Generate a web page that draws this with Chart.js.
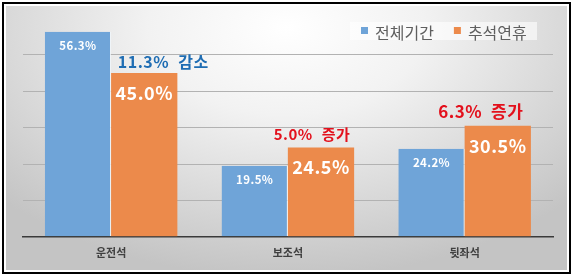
<!DOCTYPE html>
<html>
<head>
<meta charset="utf-8">
<script src="https://cdn.jsdelivr.net/npm/chart.js@4"></script>
<style>
  html, body { margin: 0; padding: 0; background: #fff; }
  #frame {
    position: absolute; left: 2px; top: 2px;
    width: 565px; height: 268px;
    border: 2px solid #000; background: #fff;
  }
  #box {
    position: absolute; left: 2px; top: 2px;
    width: 561px; height: 264px;
    background: radial-gradient(ellipse 70% 95% at 50% 8%, #ffffff 0%, #f2f2f2 35%, #d6d6d6 75%, #c4c4c4 100%);
  }
</style>
</head>
<body>
<div id="frame"><div id="box"><canvas id="myChart" width="561" height="264"></canvas></div></div>
<script>
// seat positions and their shares (%)
const seats = ['운전석', '보조석', '뒷좌석'];
const wholePeriod = [56.3, 19.5, 24.2];   // 전체기간
const chuseok = [45.0, 24.5, 30.5];       // 추석연휴
const seriesNames = ['전체기간', '추석연휴'];
const changeTexts = ['11.3% 감소', '5.0% 증가', '6.3% 증가'];
const yTicks = [0, 10, 20, 30, 40, 50, 60];

const BLUE = '#6fa4d8';
const ORANGE = '#ec8a4b';
const FONT = "'Noto Sans CJK KR', 'Noto Sans', sans-serif";

// white value labels inside the bars
const valueLabels = {
    id: 'valueLabels',
    afterDatasetsDraw(chart) {
        const ctx = chart.ctx;
        ctx.save();
        ctx.fillStyle = '#fff';
        ctx.textAlign = 'center';
        ctx.textBaseline = 'middle';
        chart.data.datasets.forEach((ds, i) => {
            const meta = chart.getDatasetMeta(i);
            const size = i === 0 ? 11.5 : 18;
            const drop = i === 0 ? 14 : 20;
            ctx.font = 'bold ' + size + 'px ' + FONT;
            ctx.letterSpacing = i === 0 ? '0.4px' : '0.5px';
            meta.data.forEach((bar, j) => {
                ctx.fillText(ds.data[j].toFixed(1) + '%', bar.x, bar.y + drop);
            });
        });
        ctx.restore();
    }
};

// change notes above the orange bars (number and word drawn with a wide gap)
const changeNotes = {
    id: 'changeNotes',
    afterDatasetsDraw(chart, args, opts) {
        const ctx = chart.ctx;
        const meta = chart.getDatasetMeta(1);
        ctx.save();
        ctx.textAlign = 'left';
        ctx.textBaseline = 'middle';
        changeTexts.forEach((t, j) => {
            const st = opts.styles[j];
            const bar = meta.data[j];
            const parts = t.split(' ');
            ctx.font = 'bold ' + st.size + 'px ' + FONT;
            ctx.letterSpacing = '0.5px';
            ctx.fillStyle = st.color;
            const w0 = ctx.measureText(parts[0]).width;
            const w1 = ctx.measureText(parts[1]).width;
            const total = w0 + opts.gap + w1;
            let x = bar.x + st.dx - total / 2;
            ctx.fillText(parts[0], x, bar.y + st.dy);
            ctx.fillText(parts[1], x + w0 + opts.gap, bar.y + st.dy);
        });
        ctx.restore();
    }
};

// legend box in the top right corner
const boxLegend = {
    id: 'boxLegend',
    afterDraw(chart, args, opts) {
        const ctx = chart.ctx;
        ctx.save();
        ctx.fillStyle = 'rgba(255,255,255,0.6)';
        ctx.fillRect(opts.x, opts.y, opts.w, opts.h);
        ctx.font = '16px ' + FONT;
        ctx.textBaseline = 'middle';
        let x = opts.x + 11;
        chart.data.datasets.forEach((ds) => {
            ctx.fillStyle = ds.backgroundColor;
            ctx.fillRect(x, opts.y + 5, 7, 7);
            ctx.fillStyle = '#5f5f5f';
            ctx.fillText(ds.label, x + 14, opts.y + 11);
            x += 14 + ctx.measureText(ds.label).width + 20;
        });
        ctx.restore();
    }
};

const ctx = document.getElementById('myChart').getContext('2d');

const myChart = new Chart(ctx, {
    type: 'bar',
    data: {
        labels: seats,
        datasets: [{
            label: seriesNames[0],
            data: wholePeriod,
            backgroundColor: BLUE,
            borderColor: 'rgba(255,255,255,0.85)',
            borderWidth: { top: 0, left: 0, bottom: 0, right: 1 },
            borderSkipped: false
        }, {
            label: seriesNames[1],
            data: chuseok,
            backgroundColor: ORANGE,
            borderWidth: 0
        }]
    },
    options: {
        responsive: false,
        animation: false,
        layout: { padding: { left: 16.7, right: 14, top: 12.4, bottom: 2 } },
        datasets: { bar: { categoryPercentage: 0.75, barPercentage: 1.0 } },
        plugins: {
            legend: { display: false },
            tooltip: { enabled: false },
            changeNotes: {
                gap: 9,
                styles: [
                    { dx: 19, dy: -11, size: 16, color: '#1f6db3' },
                    { dx: -9, dy: -13, size: 15, color: '#e3101c' },
                    { dx: -17, dy: -14, size: 17, color: '#e3101c' }
                ]
            },
            boxLegend: { x: 344, y: 16, w: 187, h: 18 }
        },
        scales: {
            x: {
                grid: { display: false, drawTicks: false },
                border: { display: true, color: '#3a3a3a', width: 1.5 },
                ticks: {
                    padding: 9,
                    color: '#404040',
                    font: { family: FONT, size: 11, weight: 'bold' }
                }
            },
            y: {
                min: yTicks[0],
                max: yTicks[yTicks.length - 1],
                afterBuildTicks: (axis) => { axis.ticks = yTicks.map(v => ({ value: v })); },
                ticks: { display: false },
                border: { display: false },
                grid: {
                    drawTicks: false,
                    color: (c) => (c.tick && (c.tick.value === 60 || c.tick.value === 0)) ? 'rgba(0,0,0,0)' : '#b2b2b2'
                }
            }
        }
    },
    plugins: [valueLabels, changeNotes, boxLegend]
});
</script>
</body>
</html>
